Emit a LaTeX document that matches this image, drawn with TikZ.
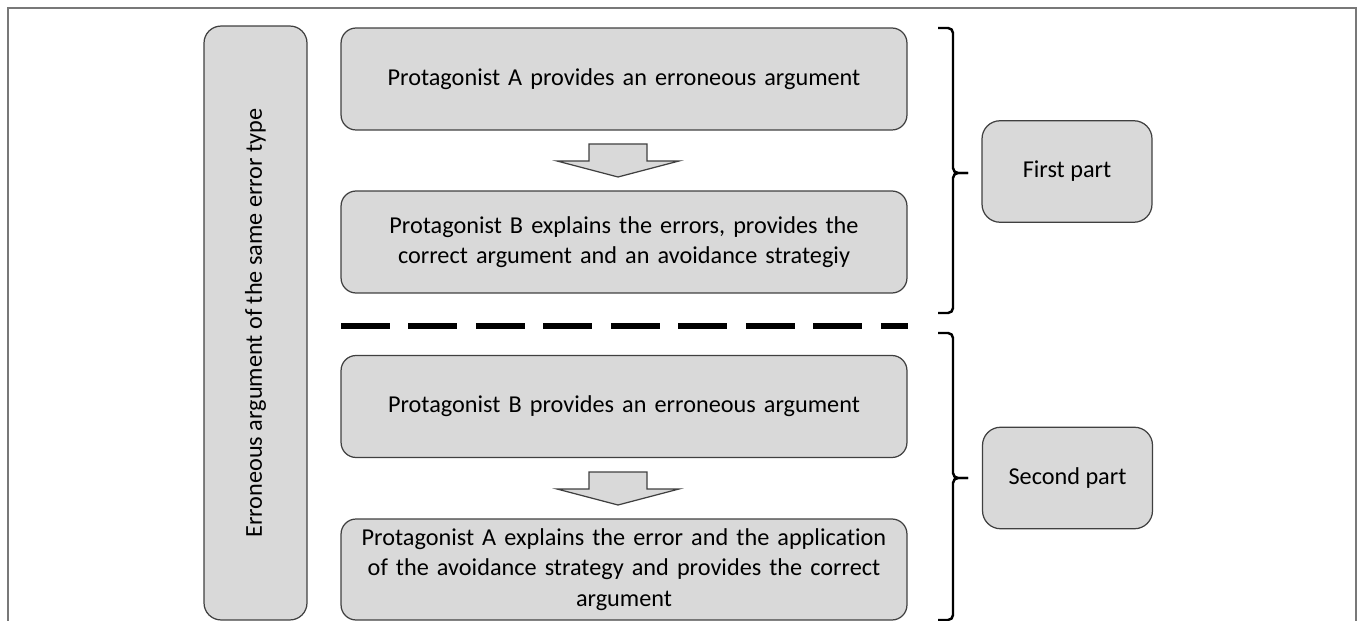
\documentclass[tikz,border=0pt]{standalone}
\usepackage{fontspec}
\setmainfont[Ligatures=NoCommon]{Carlito}

\begin{document}
\begin{tikzpicture}[x=0.02cm, y=-0.02cm]

\definecolor{boxgray}{RGB}{217, 217, 217}
\definecolor{edgegray}{RGB}{64, 64, 64}
\definecolor{framegray}{RGB}{120, 120, 120}

% Page size
\useasboundingbox (0,0) rectangle (1358,621);

\tikzset{
    stage box/.style={
        draw=edgegray, line width=0.7pt, fill=boxgray,
        rectangle, rounded corners=0.3cm,
        minimum width=11.32cm, minimum height=2.04cm,
        text width=10.8cm, align=center,
        font=\fontsize{13.8}{17.2}\selectfont
    },
    part box/.style={
        draw=edgegray, line width=0.7pt, fill=boxgray,
        rectangle, rounded corners=0.36cm,
        minimum width=3.4cm, minimum height=2.03cm,
        font=\fontsize{13.8}{17.2}\selectfont
    },
    block arrow/.style={
        draw=edgegray, line width=0.7pt, fill=boxgray, line join=miter
    },
    bracket/.style={
        draw=black, line width=1.4pt, rounded corners=0.1cm
    },
    split line/.style={
        draw=black, line width=3.8pt,
        dash pattern=on 0.98cm off 0.37cm
    }
}

% Outer frame
\draw[framegray, line width=1.1pt] (8,640) -- (8,8) -- (1356,8) -- (1356,640);

% Side box
\node[part box, rotate=90, rounded corners=0.34cm,
      minimum width=11.88cm, minimum height=2.06cm] (errtype) at (255.5,323)
      {Erroneous argument of the same error type};

% STEPS
\node[stage box] (argA)  at (624,79)    {Protagonist A provides an erroneous argument};
\node[stage box] (explB) at (624,242)   {Protagonist B explains the errors, provides the\\correct argument and an avoidance strategiy};
\node[stage box] (argB)  at (624,406.5) {Protagonist B provides an erroneous argument};
\node[stage box, minimum height=2.02cm] (explA) at (624,569.5) {Protagonist A explains the error and the application\\of the avoidance strategy and provides the correct\\argument};

% Block arrows (top of the stem)
\coordinate (arr1) at (618,144);
\coordinate (arr2) at (618,472);
\draw[block arrow] (arr1) ++(-29,0) -- ++(58,0) -- ++(0,17) -- ++(32,0) -- ++(-61,16) -- ++(-61,-16) -- ++(32,0) -- cycle;
\draw[block arrow] (arr2) ++(-29,0) -- ++(58,0) -- ++(0,17) -- ++(32,0) -- ++(-61,16) -- ++(-61,-16) -- ++(32,0) -- cycle;

% Separator
\draw[split line] (341,326) -- (908,326);

% PARTS
\node[part box] (first)  at (1067,171.5) {First part};
\node[part box] (second) at (1067.5,478) {Second part};

% Braces
\coordinate (tip1) at (968,173);
\coordinate (tip2) at (968,478);
\draw[bracket] (938,28) -| (953,173) -- (tip1);
\draw[bracket] (tip1) -- (953,173) |- (938,313);
\draw[bracket] (938,333) -| (953,478) -- (tip2);
\draw[bracket] (tip2) -- (953,478) |- (938,620);

\end{tikzpicture}
\end{document}
